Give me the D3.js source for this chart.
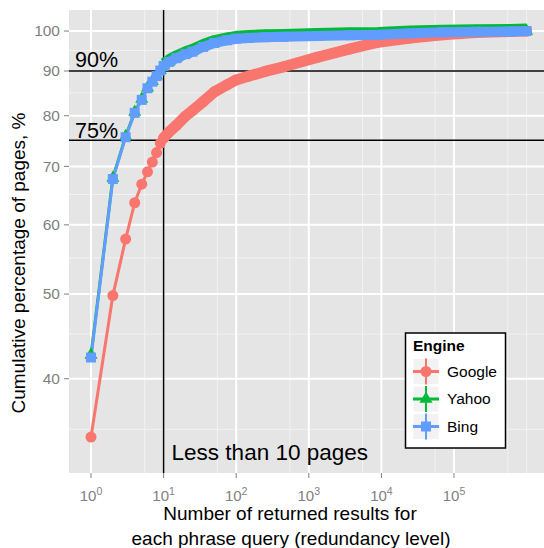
<!DOCTYPE html>
<html>
<head>
<meta charset="utf-8">
<script src="https://cdn.jsdelivr.net/npm/d3@7"></script>
<style>
  body { margin: 0; background: #fff; }
  text { font-family: "Liberation Sans", Arial, sans-serif; }
</style>
</head>
<body>
<div id="chart"></div>
<script>
// values
const engines = ["Google", "Yahoo", "Bing"];
const engineColors = ["#F8766D", "#00BA38", "#619CFF"];
const results = [1, 2, 3, 4, 5, 6, 7, 8, 9, 10, 12, 15, 20, 25, 35, 50, 75, 100, 150, 250,
                 450, 1300, 3700, 9000, 25000, 70000, 200000, 600000, 1000000];
const google = [34.3, 49.8, 57.8, 63.6, 66.8, 69.0, 70.8, 72.6, 74.4, 75.4, 76.7, 78.0, 79.9, 81.1,
                83.0, 85.2, 86.8, 87.9, 88.8, 89.9, 91.0, 93.3, 95.4, 97.1, 98.2, 99.0, 99.6, 99.9, 100];
const yahoo = [42.6, 67.9, 75.8, 80.8, 83.6, 86.1, 87.6, 88.9, 90.2, 91.3, 92.3, 93.2, 94.2, 94.8,
               96.0, 97.0, 97.7, 98.1, 98.3, 98.5, 98.6, 98.8, 99.0, 99.1, 99.5, 99.7, 99.8, 99.9, 100];
const bing = [42.3, 67.7, 75.6, 80.6, 83.4, 86.0, 87.5, 88.8, 90.1, 91.2, 92.2, 93.1, 94.1, 94.7,
              95.9, 96.9, 97.6, 98.0, 98.2, 98.4, 98.5, 98.7, 98.9, 99.0, 99.4, 99.7, 99.8, 99.9, 100];
const seriesValues = [google, yahoo, bing];

const yTicks = [40, 50, 60, 70, 80, 90, 100];
const yMinor = [35, 45, 55, 65, 75, 85, 95];
const xTickExp = [0, 1, 2, 3, 4, 5];
const xMinor = [5.5, 55, 550, 5500, 55000, 550000, 1000000];
const refLevels = [90, 75];
const refLabels = ["90%", "75%"];
const refResults = 10;
const refResultsLabel = "Less than 10 pages";

const width = 544, height = 548;
const panel = { left: 69, top: 10, right: 544, bottom: 473 };

const svg = d3.select("#chart").append("svg")
    .attr("width", width).attr("height", height);

const x = d3.scaleLog().domain([0.4977, 1.737e6]).range([panel.left, panel.right]);
const y = d3.scaleLog().domain([31.2, 105.7]).range([panel.bottom, panel.top]);

// panel + grid
svg.append("rect")
    .attr("x", panel.left).attr("y", panel.top)
    .attr("width", panel.right - panel.left).attr("height", panel.bottom - panel.top)
    .attr("fill", "#E5E5E5");

const grid = svg.append("g");
grid.selectAll(".ymin").data(yMinor).join("line")
    .attr("x1", panel.left).attr("x2", panel.right)
    .attr("y1", d => y(d)).attr("y2", d => y(d))
    .attr("stroke", "#F2F2F2").attr("stroke-width", 1);
grid.selectAll(".xmin").data(xMinor).join("line")
    .attr("y1", panel.top).attr("y2", panel.bottom)
    .attr("x1", d => x(d)).attr("x2", d => x(d))
    .attr("stroke", "#F2F2F2").attr("stroke-width", 1);
grid.selectAll(".ymaj").data(yTicks).join("line")
    .attr("x1", panel.left).attr("x2", panel.right)
    .attr("y1", d => y(d)).attr("y2", d => y(d))
    .attr("stroke", "#fff").attr("stroke-width", 2);
grid.selectAll(".xmaj").data(xTickExp).join("line")
    .attr("y1", panel.top).attr("y2", panel.bottom)
    .attr("x1", d => x(Math.pow(10, d))).attr("x2", d => x(Math.pow(10, d)))
    .attr("stroke", "#fff").attr("stroke-width", 2);

// reference lines
svg.selectAll(".href").data(refLevels).join("line")
    .attr("x1", panel.left).attr("x2", panel.right)
    .attr("y1", d => y(d)).attr("y2", d => y(d))
    .attr("stroke", "#000").attr("stroke-width", 1.5);
svg.append("line")
    .attr("x1", x(refResults)).attr("x2", x(refResults))
    .attr("y1", panel.top).attr("y2", panel.bottom)
    .attr("stroke", "#000").attr("stroke-width", 1.5);

// series
const series = engines.map((name, i) => ({
    name, color: engineColors[i],
    points: results.map((r, j) => ({ r, v: seriesValues[i][j] }))
}));

const line = d3.line().x(d => x(d.r)).y(d => y(d.v));

svg.append("g").selectAll("path").data(series).join("path")
    .attr("d", d => line(d.points))
    .attr("fill", "none")
    .attr("stroke", d => d.color)
    .attr("stroke-width", 3);

const triangle = "M0,-7.5L6.5,3.8L-6.5,3.8Z";

series.forEach((s, i) => {
    const g = svg.append("g");
    // dense run of overlapping markers from 10 results on
    const dense = s.points.filter(p => p.r >= 10);
    g.append("path")
        .attr("d", line(dense))
        .attr("transform", i === 1 ? "translate(0,-2.5)" : null)
        .attr("fill", "none")
        .attr("stroke", s.color)
        .attr("stroke-width", i === 0 ? 11 : 10)
        .attr("stroke-linejoin", "round")
        .attr("stroke-linecap", i === 0 ? "round" : "butt");
    const pts = g.selectAll(".pt").data(s.points).join(i === 0 ? "circle" : "path");
    if (i === 0) {
        pts.attr("cx", d => x(d.r)).attr("cy", d => y(d.v)).attr("r", 5.5).attr("fill", s.color);
    } else if (i === 1) {
        pts.attr("d", triangle).attr("transform", d => `translate(${x(d.r)},${y(d.v)})`).attr("fill", s.color);
    } else {
        pts.attr("d", "M-5,-5H5V5H-5Z").attr("transform", d => `translate(${x(d.r)},${y(d.v)})`).attr("fill", s.color);
    }
});

// annotations
svg.selectAll(".reftxt").data(refLevels).join("text")
    .attr("x", 75)
    .attr("y", (d, i) => y(d) - (i === 0 ? 4 : 2))
    .attr("font-size", 21.5)
    .attr("fill", "#000")
    .text((d, i) => refLabels[i]);
svg.append("text")
    .attr("x", x(refResults) + 8).attr("y", 460)
    .attr("font-size", 22.5)
    .text(refResultsLabel);

// axes
const yAxis = svg.append("g");
yAxis.selectAll("line").data(yTicks).join("line")
    .attr("x1", panel.left - 5).attr("x2", panel.left)
    .attr("y1", d => y(d)).attr("y2", d => y(d))
    .attr("stroke", "#7F7F7F");
yAxis.selectAll("text").data(yTicks).join("text")
    .attr("x", panel.left - 9).attr("y", d => y(d))
    .attr("dy", "0.35em")
    .attr("text-anchor", "end")
    .attr("font-size", 15.5).attr("fill", "#7F7F7F")
    .text(d => d);

const xAxis = svg.append("g");
xAxis.selectAll("line").data(xTickExp).join("line")
    .attr("x1", d => x(Math.pow(10, d))).attr("x2", d => x(Math.pow(10, d)))
    .attr("y1", panel.bottom).attr("y2", panel.bottom + 5)
    .attr("stroke", "#7F7F7F");
const xl = xAxis.selectAll("text").data(xTickExp).join("text")
    .attr("x", d => x(Math.pow(10, d))).attr("y", 501)
    .attr("text-anchor", "middle")
    .attr("font-size", 15).attr("fill", "#7F7F7F");
xl.append("tspan").text("10");
xl.append("tspan").attr("dy", -6).attr("font-size", 10.5).text(d => d);

svg.append("text")
    .attr("transform", "translate(25,263) rotate(-90)")
    .attr("text-anchor", "middle")
    .attr("font-size", 19)
    .text("Cumulative percentage of pages, %");
svg.append("text")
    .attr("x", 290).attr("y", 520)
    .attr("text-anchor", "middle").attr("font-size", 19)
    .text("Number of returned results for");
svg.append("text")
    .attr("x", 291).attr("y", 545)
    .attr("text-anchor", "middle").attr("font-size", 19)
    .text("each phrase query (redundancy level)");

// legend
const leg = svg.append("g");
leg.append("rect")
    .attr("x", 405.5).attr("y", 333).attr("width", 100).attr("height", 115)
    .attr("fill", "#fff").attr("stroke", "#000").attr("stroke-width", 1.5);
leg.append("text")
    .attr("x", 413).attr("y", 351)
    .attr("font-size", 15.5).attr("font-weight", "bold")
    .text("Engine");
const keys = leg.selectAll(".key").data(series).join("g")
    .attr("transform", (d, i) => `translate(413,${358.5 + i * 27.5})`);
keys.append("rect").attr("width", 26).attr("height", 26)
    .attr("fill", "#F2F2F2").attr("stroke", "#fff").attr("stroke-width", 1);
keys.append("line").attr("x1", 0).attr("x2", 26).attr("y1", 13).attr("y2", 13)
    .attr("stroke", d => d.color).attr("stroke-width", 3);
keys.append("line").attr("x1", 13).attr("x2", 13).attr("y1", 0).attr("y2", 26)
    .attr("stroke", d => d.color).attr("stroke-width", 2);
keys.each(function (d, i) {
    const k = d3.select(this);
    if (i === 0) k.append("circle").attr("cx", 13).attr("cy", 13).attr("r", 5.5).attr("fill", d.color);
    else if (i === 1) k.append("path").attr("d", triangle).attr("transform", "translate(13,13)").attr("fill", d.color);
    else k.append("path").attr("d", "M-5,-5H5V5H-5Z").attr("transform", "translate(13,13)").attr("fill", d.color);
});
keys.append("text")
    .attr("x", 34).attr("y", 13).attr("dy", "0.35em")
    .attr("font-size", 15.5)
    .text(d => d.name);
</script>
</body>
</html>
